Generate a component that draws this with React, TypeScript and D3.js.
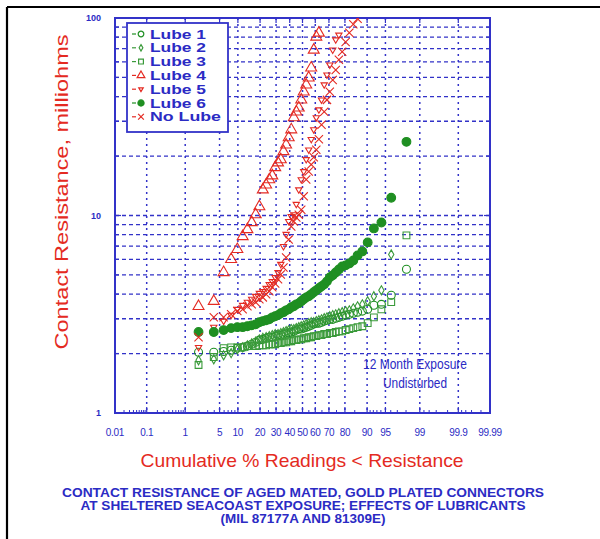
import React from 'react';
import * as d3 from 'd3';

// readings (milliohms), ascending; plotted at i/(N+1) cumulative %
const SAMPLE_SIZE = 50;

const seriesNames = ['Lube 1', 'Lube 2', 'Lube 3', 'Lube 4', 'Lube 5', 'Lube 6', 'No Lube'];

const lube1 = [2.03, 2.03, 2.05, 2.08, 2.13, 2.15, 2.18, 2.23, 2.28, 2.34,
  2.36, 2.39, 2.42, 2.42, 2.45, 2.48, 2.48, 2.51, 2.54, 2.54,
  2.57, 2.59, 2.63, 2.66, 2.66, 2.69, 2.72, 2.75, 2.78, 2.82,
  2.85, 2.85, 2.88, 2.92, 2.95, 2.98, 2.98, 3.02, 3.05, 3.09,
  3.13, 3.16, 3.2, 3.24, 3.28, 3.35, 3.51, 3.55, 3.95, 5.34];

const lube2 = [1.85, 1.87, 1.96, 2.01, 2.1, 2.15, 2.2, 2.25, 2.3, 2.36,
  2.4, 2.42, 2.45, 2.48, 2.51, 2.51, 2.54, 2.57, 2.6, 2.63,
  2.66, 2.66, 2.69, 2.72, 2.75, 2.78, 2.82, 2.85, 2.88, 2.88,
  2.92, 2.95, 2.98, 3.02, 3.05, 3.09, 3.13, 3.16, 3.2, 3.24,
  3.28, 3.31, 3.39, 3.47, 3.55, 3.68, 3.9, 4.18, 6.35];

const lube3 = [1.75, 1.92, 2.13, 2.15, 2.15, 2.15, 2.18, 2.18, 2.18, 2.2,
  2.2, 2.2, 2.23, 2.23, 2.23, 2.26, 2.26, 2.28, 2.28, 2.31,
  2.31, 2.34, 2.34, 2.36, 2.36, 2.39, 2.39, 2.42, 2.42, 2.45,
  2.45, 2.48, 2.48, 2.51, 2.51, 2.54, 2.54, 2.57, 2.59, 2.59,
  2.63, 2.66, 2.69, 2.72, 2.75, 2.85, 3.05, 3.35, 3.64, 7.93];

const lube4 = [3.47, 3.68, 5.15, 6.0, 6.74, 7.83, 8.5, 9.22, 10.1, 11.1,
  13.5, 14.3, 15.2, 15.9, 17.5, 18.5, 19.2, 21.1, 22.8, 24.8,
  27.2, 31.3, 33.5, 35.1, 38.5, 42.3, 45.9, 49.8, 55.9, 68.9,
  80.2, 84];

const lube5 = [2.15, 2.72, 2.92, 3.13, 3.35, 3.51, 3.64, 3.77, 3.9, 4.04,
  4.13, 4.28, 4.48, 4.64, 4.86, 5.15, 5.66, 6.97, 8.03, 9.33,
  9.9, 10.1, 11.4, 13.5, 15.2, 16.7, 19.2, 21.5, 24.3, 27.2,
  31.3, 34.3, 38.5, 45.9, 51.5, 57.9, 68.9, 77.6, 82];

const lube6 = [2.57, 2.57, 2.63, 2.69, 2.72, 2.72, 2.75, 2.78, 2.81, 2.88,
  2.92, 2.95, 2.98, 3.05, 3.09, 3.13, 3.2, 3.24, 3.31, 3.35,
  3.43, 3.47, 3.55, 3.59, 3.68, 3.77, 3.85, 3.9, 3.99, 4.09,
  4.18, 4.28, 4.38, 4.48, 4.64, 4.86, 4.98, 5.15, 5.33, 5.52,
  5.59, 5.72, 5.92, 6.28, 6.58, 7.31, 8.6, 9.22, 12.3, 23.6];

const noLube = [2.42, 3.05, 3.05, 3.16, 3.28, 3.35, 3.47, 3.55, 3.64, 3.77,
  3.85, 3.99, 4.13, 4.33, 4.53, 4.75, 5.03, 5.46, 6.13, 7.55,
  8.8, 9.33, 9.77, 10.1, 10.7, 12.5, 15.2, 16.7, 18.1, 19.7,
  21.5, 24.3, 28.8, 33.5, 38.5, 42.3, 48.5, 54.6, 61.5, 67.4,
  75.6, 84.2, 93.0, 99];

const xTickLabels = [0.01, 0.1, 1, 5, 10, 20, 30, 40, 50, 60, 70, 80, 90, 95, 99, 99.9, 99.99];
const xMinorTicks = [0.02, 0.03, 0.04, 0.05, 0.06, 0.07, 0.08, 0.09,
  0.2, 0.3, 0.4, 0.5, 0.6, 0.7, 0.8, 0.9, 2, 3, 4, 6, 7, 8, 9,
  15, 25, 35, 45, 55, 65, 75, 85, 91, 92, 93, 94, 96, 97, 98,
  99.2, 99.4, 99.6, 99.8, 99.92, 99.94, 99.96, 99.98];
const yTickLabels = [1, 10, 100];

const captionLines = [
  'CONTACT RESISTANCE OF AGED MATED, GOLD PLATED CONNECTORS',
  'AT SHELTERED SEACOAST EXPOSURE; EFFECTS OF LUBRICANTS',
  '(MIL 87177A AND 81309E)',
];

const BLUE = '#3232c8';
const TEXT_BLUE = '#2b2bc4';
const RED = '#e42a22';
const GREEN = '#1f8f22';

// inverse normal cdf (Acklam)
function probit(p: number): number {
  const a = [-39.69683028665376, 220.9460984245205, -275.9285104469687, 138.357751867269, -30.66479806614716, 2.506628277459239];
  const b = [-54.47609879822406, 161.5858368580409, -155.6989798598866, 66.80131188771972, -13.28068155288572];
  const c = [-0.007784894002430293, -0.3223964580411365, -2.400758277161838, -2.549732539343734, 4.374664141464968, 2.938163982698783];
  const d = [0.007784695709041462, 0.3224671290700398, 2.445134137142996, 3.754408661907416];
  const plow = 0.02425;
  if (p < plow) {
    const q = Math.sqrt(-2 * Math.log(p));
    return (((((c[0] * q + c[1]) * q + c[2]) * q + c[3]) * q + c[4]) * q + c[5]) /
      ((((d[0] * q + d[1]) * q + d[2]) * q + d[3]) * q + 1);
  }
  if (p > 1 - plow) {
    const q = Math.sqrt(-2 * Math.log(1 - p));
    return -(((((c[0] * q + c[1]) * q + c[2]) * q + c[3]) * q + c[4]) * q + c[5]) /
      ((((d[0] * q + d[1]) * q + d[2]) * q + d[3]) * q + 1);
  }
  const q = p - 0.5;
  const r = q * q;
  return (((((a[0] * r + a[1]) * r + a[2]) * r + a[3]) * r + a[4]) * r + a[5]) * q /
    (((((b[0] * r + b[1]) * r + b[2]) * r + b[3]) * r + b[4]) * r + 1);
}

const margin = { top: 18, right: 110, bottom: 126, left: 115 };
const W = 600;
const H = 539;
const left = margin.left;
const right = W - margin.right;
const top = margin.top;
const bottom = H - margin.bottom;

const zMax = probit(0.9999);
const zScale = d3.scaleLinear().domain([-zMax, zMax]).range([left, right]);
const x = (pct: number) => zScale(probit(pct / 100));
const y = d3.scaleLog().domain([1, 100]).range([bottom, top]);

const downTriangle = {
  draw(ctx: any, size: number) {
    const s = Math.sqrt(size / (Math.sqrt(3) * 0.75)) / 2;
    ctx.moveTo(0, s * 1.1);
    ctx.lineTo(-s, -s * 0.6);
    ctx.lineTo(s, -s * 0.6);
    ctx.closePath();
  },
};

const seriesStyle = [
  { data: lube1, type: d3.symbolCircle, size: 50, color: GREEN, fill: 'none' },
  { data: lube2, type: d3.symbolDiamond, size: 24, color: '#3a9a3a', fill: 'none' },
  { data: lube3, type: d3.symbolSquare, size: 46, color: '#3a9a3a', fill: 'none' },
  { data: lube4, type: d3.symbolTriangle, size: 52, color: RED, fill: 'none' },
  { data: lube5, type: downTriangle, size: 52, color: RED, fill: 'none' },
  { data: lube6, type: d3.symbolCircle, size: 60, color: GREEN, fill: GREEN },
  { data: noLube, type: (d3 as any).symbolTimes || (d3 as any).symbolX, size: 46, color: RED, fill: 'none' },
];

const App = () => {
  const gridY = y.ticks().filter(v => v > 1 && v < 100);
  const gridX = xTickLabels.filter(v => v > 0.01 && v < 99.99);
  const font = 'Arial, "Liberation Sans", Helvetica, sans-serif';

  return (
    <svg width={W} height={H} style={{ position: 'absolute', left: 0, top: 0, background: '#fff' }}
      fontFamily={font}>
      <defs>
        <clipPath id="plot">
          <rect x={left} y={top} width={right - left} height={bottom - top} />
        </clipPath>
      </defs>
      {/* page frame */}
      <line x1={7} x2={W} y1={7} y2={7} stroke="#000" strokeWidth={2.2} />
      <line x1={7} x2={7} y1={7} y2={H} stroke="#000" strokeWidth={2.2} />

      {/* grid */}
      {gridY.map(v => (
        <line key={'gy' + v} x1={left} x2={right} y1={y(v)} y2={y(v)}
          stroke={BLUE} strokeWidth={1.3} strokeDasharray="4,3" />
      ))}
      {gridX.map(v => (
        <line key={'gx' + v} x1={x(v)} x2={x(v)} y1={top} y2={bottom}
          stroke={BLUE} strokeWidth={1.5} strokeDasharray="2,4" />
      ))}

      {/* axis ticks */}
      {y.ticks().map(v => {
        const len = yTickLabels.includes(v) ? 6 : 4;
        return (
          <g key={'yt' + v} stroke={BLUE} strokeWidth={1.2}>
            <line x1={left} x2={left + len} y1={y(v)} y2={y(v)} />
            <line x1={right} x2={right - len} y1={y(v)} y2={y(v)} />
          </g>
        );
      })}
      {xTickLabels.map(v => (
        <g key={'xt' + v} stroke={BLUE} strokeWidth={1.2}>
          <line x1={x(v)} x2={x(v)} y1={bottom} y2={bottom - 6} />
          <line x1={x(v)} x2={x(v)} y1={top} y2={top + 5} />
        </g>
      ))}
      {xMinorTicks.map(v => (
        <line key={'xm' + v} x1={x(v)} x2={x(v)} y1={bottom} y2={bottom - 3}
          stroke={BLUE} strokeWidth={1} />
      ))}
      <rect x={left} y={top} width={right - left} height={bottom - top}
        fill="none" stroke={BLUE} strokeWidth={2} />

      {/* tick labels */}
      {xTickLabels.map(v => (
        <text key={'xl' + v} x={x(v)} y={436} textAnchor="middle" fontSize={10}
          fill={TEXT_BLUE} letterSpacing={-0.3}>{v}</text>
      ))}
      {yTickLabels.map(v => (
        <text key={'yl' + v} x={left - 14} y={y(v) + 3} textAnchor="end" fontSize={9}
          fontWeight="bold" fill={TEXT_BLUE}>{v}</text>
      ))}

      {/* points */}
      <g clipPath="url(#plot)">
        {seriesStyle.map((s, si) => {
          const path = d3.symbol().type(s.type).size(s.size)();
          return (
            <g key={'s' + si}>
              {s.data.map((v, i) => (
                <path key={i} d={path || ''}
                  transform={`translate(${x((i + 1) / (SAMPLE_SIZE + 1) * 100)},${y(v)})`}
                  fill={s.fill} stroke={s.color} strokeWidth={1.1} />
              ))}
            </g>
          );
        })}
      </g>

      {/* legend */}
      <rect x={127} y={23} width={101} height={109} fill="#fff" stroke={BLUE} strokeWidth={1.8} />
      {seriesNames.map((name, i) => {
        const s = seriesStyle[i];
        const ly = 34 + i * 13.8;
        const path = d3.symbol().type(s.type).size(s.size * 0.5)();
        return (
          <g key={'lg' + i}>
            <line x1={132} x2={136} y1={ly} y2={ly} stroke={s.color} strokeWidth={1.2} />
            <path d={path || ''} transform={`translate(${141},${ly})`} fill={s.fill}
              stroke={s.color} strokeWidth={1.2} />
            <text x={150} y={ly + 4.5} fontSize={12.5} fontWeight="bold" fill={TEXT_BLUE}
              textLength={name === 'No Lube' ? 71 : 56} lengthAdjust="spacingAndGlyphs">{name}</text>
          </g>
        );
      })}

      {/* annotation */}
      <text x={415} y={369} textAnchor="middle" fontSize={15} fill={TEXT_BLUE}
        textLength={104} lengthAdjust="spacingAndGlyphs">12 Month Exposure</text>
      <text x={415} y={388} textAnchor="middle" fontSize={15} fill={TEXT_BLUE}
        textLength={64} lengthAdjust="spacingAndGlyphs">Undisturbed</text>

      {/* axis titles */}
      <text x={302} y={467} textAnchor="middle" fontSize={19} fill={RED}
        textLength={323} lengthAdjust="spacingAndGlyphs">Cumulative % Readings &lt; Resistance</text>
      <text transform={`translate(68,${192}) rotate(-90)`} textAnchor="middle" fontSize={19}
        fill={RED} textLength={315} lengthAdjust="spacingAndGlyphs">Contact Resistance, milliohms</text>

      {/* caption */}
      {captionLines.map((line, i) => (
        <text key={'cap' + i} x={303} y={497 + i * 13} textAnchor="middle" fontSize={12}
          fontWeight="bold" fill={TEXT_BLUE}
          textLength={[482, 445, 165][i]} lengthAdjust="spacingAndGlyphs">{line}</text>
      ))}
    </svg>
  );
};

export default App;
